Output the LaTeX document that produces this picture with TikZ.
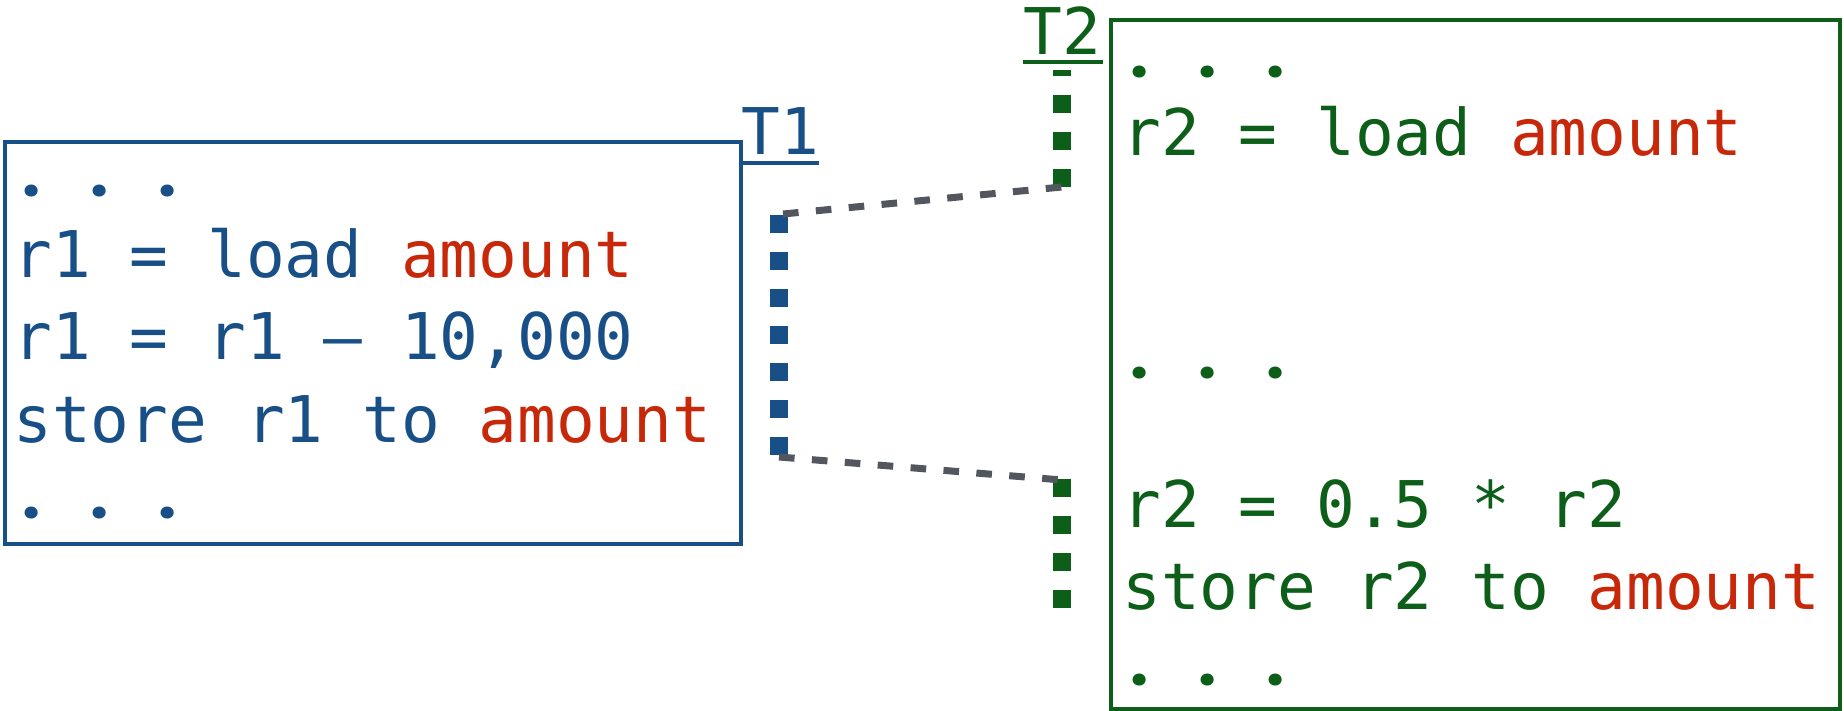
\documentclass[tikz,border=0pt]{standalone}
\usepackage{fontspec}
\newfontfamily\codefont{DejaVu Sans Mono}
\newfontfamily\dotfont{Poppins}
\usetikzlibrary{calc}
\definecolor{tblue}{RGB}{24,79,135}
\definecolor{tgreen}{RGB}{12,94,24}
\definecolor{tred}{RGB}{200,40,10}
\definecolor{tgray}{RGB}{82,86,94}
\newcommand{\amt}{\textcolor{tred}{amount}}
\newcommand{\onedot}{\makebox[0pt][c]{\dotfont\bfseries .}}
\newcommand{\dotrow}{\onedot\hspace{34pt}\onedot\hspace{34pt}\onedot}
\begin{document}
\begin{tikzpicture}[x=0.5pt,y=-0.5pt,
  code/.style={anchor=base west, inner sep=0pt, font=\codefont\fontsize{32.2pt}{38pt}\selectfont},
  boxline/.style={line width=1.65pt},
  thread/.style={line width=9pt, dash pattern=on 9pt off 9.5pt},
  link/.style={tgray, line width=3.5pt, dash pattern=on 7.8pt off 8.7pt}]
\useasboundingbox (0,0) rectangle (1844,711);

% boxes
\draw[tblue, boxline] (5,142) rectangle (741,544);
\draw[tgreen, boxline] (1111,20) rectangle (1840,709);

% left box text
\begin{scope}[every node/.style={code, text=tblue}]
\node (l0) at (31,197) {\dotrow};
\node (l1) at (13,278) {r1 = load \amt};
\node (l2) at (13,360) {r1 = r1 – 10,000};
\node (l3) at (13,443) {store r1 to \amt};
\node (l4) at (31,518) {\dotrow};
\node (T1) at (741,155) {T1};
\end{scope}
\draw[tblue, line width=1.9pt] ($(T1.base west)+(-1,8)$) -- ($(T1.base east)+(0,8)$);

% right box text
\begin{scope}[every node/.style={code, text=tgreen}]
\node (r0) at (1139,78) {\dotrow};
\node (r1) at (1122,156) {r2 = load \amt};
\node (r2) at (1139,379) {\dotrow};
\node (r3) at (1122,527) {r2 = 0.5 * r2};
\node (r4) at (1122,609) {store r2 to \amt};
\node (r5) at (1139,685) {\dotrow};
\node (T2) at (1023,55) {T2};
\end{scope}
\draw[tgreen, line width=1.9pt] ($(T2.base west)+(0,7)$) -- ($(T2.base east)+(2,7)$);

% thread timelines
\coordinate (a1) at (779,215);
\coordinate (a2) at (779,455);
\coordinate (b1) at (1062,187);
\coordinate (b0) at (1062,70);
\coordinate (c1) at (1062,479);
\coordinate (c2) at (1062,609);

\draw[tblue, thread] (a1) -- (a2);
\draw[tgreen, thread] (b1) -- (b0);
\draw[tgreen, thread] (c1) -- (c2);

% switches
\draw[link] ([xshift=2pt,yshift=0.5pt]a1) -- (b1);
\draw[link] ([yshift=-1pt]a2) -- ([yshift=-0.5pt]c1);
\end{tikzpicture}
\end{document}
